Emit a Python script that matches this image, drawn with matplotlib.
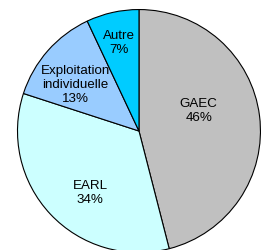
import numpy as np
import matplotlib.pyplot as plt

plt.rcParams['font.family'] = ['Liberation Sans', 'DejaVu Sans']

labels = ['GAEC', 'EARL', 'Exploitation\nindividuelle', 'Autre']
shares = [46, 34, 13, 7]
colors = ['#C0C0C0', '#CCFFFF', '#99CCFF', '#00CCFF']

# label placement (fraction of radius, angle shift in degrees)
label_dist = [0.52, 0.64, 0.65, 0.75]
label_shift = [12, 8, 5, 0]

fig = plt.figure(figsize=(2.61, 2.51), dpi=100)
ax = fig.add_axes([0.067, -0.01, 0.931, 0.968])
wedges, _ = ax.pie(shares, colors=colors, startangle=90, counterclock=False,
                   wedgeprops=dict(edgecolor='black', linewidth=0.8))
for w, lab, val, d, s in zip(wedges, labels, shares, label_dist, label_shift):
    ang = np.deg2rad((w.theta1 + w.theta2) / 2 + s)
    ax.text(d * np.cos(ang), d * np.sin(ang), '%s\n%d%%' % (lab, val),
            ha='center', va='center', fontsize=9.6, linespacing=1.2)
ax.set_xlim(-1, 1)
ax.set_ylim(-1, 1)
ax.set_aspect('equal')
ax.axis('off')
fig.savefig('out.png', dpi=100)
